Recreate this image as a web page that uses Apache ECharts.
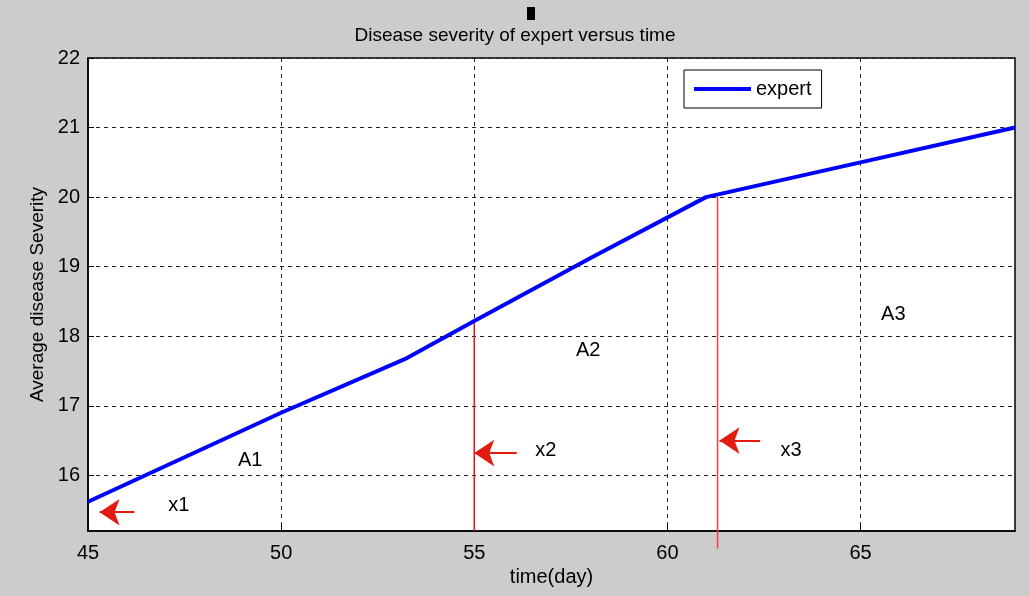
<!DOCTYPE html>
<html>
<head>
<meta charset="utf-8">
<title>Disease severity of expert versus time</title>
<script src="https://cdn.jsdelivr.net/npm/echarts@6/dist/echarts.min.js"></script>
<style>
  html, body { margin: 0; padding: 0; background: #cccccc; }
  #chart { width: 1030px; height: 596px; }
</style>
</head>
<body>
<div id="chart"></div>
<script>
// data
const days = [45, 50, 53.2, 55, 58, 61, 65, 69];
const severity = [15.62, 16.9, 17.67, 18.22, 19.12, 20.0, 20.5, 21.0];
const xTicks = [45, 50, 55, 60, 65];
const yTicks = [16, 17, 18, 19, 20, 21, 22];

// red markers x2 / x3 (vertical lines)
const x2Line = [[55, 15.2], [55, 18.22]];
const x3Line = [[61.3, 14.95], [61.3, 20.0]];

// arrows: [tail, tip]
const arrows = [
  [[46.2, 15.47], [45.3, 15.47]],
  [[56.1, 16.32], [55.0, 16.32]],
  [[62.4, 16.5], [61.35, 16.5]]
];

// text annotations
const notes = [
  ["x1", 47.35, 15.57],
  ["A1", 49.2, 16.22],
  ["x2", 56.85, 16.36],
  ["A2", 57.95, 17.8],
  ["x3", 63.2, 16.36],
  ["A3", 65.85, 18.31]
];

const font = "'Liberation Sans Narrow', 'Liberation Sans', Arial, sans-serif";

let chart = echarts.init(document.getElementById("chart"));
chart.setOption({
  backgroundColor: "#cccccc",
  animation: false,
  title: {
    text: "Disease severity of expert versus time",
    left: "center",
    top: 21,
    textStyle: { fontFamily: font, fontSize: 19, fontWeight: "normal", color: "#000" }
  },
  legend: {
    left: 684,
    top: 70,
    backgroundColor: "#fff",
    borderColor: "#000",
    borderWidth: 1,
    padding: [9, 10, 9, 10],
    itemWidth: 57,
    itemHeight: 4,
    itemGap: 6,
    data: [{ name: "expert", icon: "rect" }],
    textStyle: { fontFamily: font, fontSize: 20, color: "#000" }
  },
  graphic: [
    { type: "rect", left: 527, top: 7, shape: { width: 8, height: 13 }, style: { fill: "#000" } }
  ],
  grid: {
    left: 88, right: 15, top: 58, bottom: 65,
    show: true,
    backgroundColor: "#fff",
    borderColor: "#000",
    borderWidth: 1.5
  },
  xAxis: {
    type: "value",
    min: 45,
    max: 69,
    name: "time(day)",
    nameLocation: "middle",
    nameGap: 32,
    nameTextStyle: { fontFamily: font, fontSize: 20, color: "#000" },
    axisLine: { show: true, lineStyle: { color: "#000", width: 1.5 } },
    axisTick: { show: true, inside: true, length: 6, customValues: xTicks, lineStyle: { color: "#000" } },
    axisLabel: { customValues: xTicks, margin: 12, fontFamily: font, fontSize: 20, color: "#000" },
    splitLine: { show: true, lineStyle: { color: "#222", type: [4, 4], width: 1 } }
  },
  yAxis: {
    type: "value",
    min: 15.2,
    max: 22,
    name: "Average disease Severity",
    nameLocation: "middle",
    nameGap: 38,
    nameTextStyle: { fontFamily: "'Liberation Sans', Arial, sans-serif", fontSize: 19, color: "#000" },
    axisLine: { show: true, lineStyle: { color: "#000", width: 1.5 } },
    axisTick: { show: true, inside: true, length: 6, customValues: yTicks, lineStyle: { color: "#000" } },
    axisLabel: { customValues: yTicks, margin: 8, fontFamily: font, fontSize: 20, color: "#000" },
    splitLine: { show: true, lineStyle: { color: "#222", type: [4, 4], width: 1 } }
  },
  series: [
    {
      name: "expert",
      type: "line",
      symbol: "none",
      color: "#0000ff",
      lineStyle: { width: 4, color: "#0000ff" },
      data: days.map((d, i) => [d, severity[i]]),
      z: 5
    },
    {
      type: "line",
      symbol: "none",
      lineStyle: { width: 1.5, color: "#ee1111" },
      data: x2Line,
      z: 4
    },
    {
      type: "line",
      symbol: "none",
      clip: false,
      lineStyle: { width: 1.5, color: "#ff3b3b" },
      data: x3Line,
      z: 4
    },
    {
      type: "lines",
      coordinateSystem: "cartesian2d",
      symbol: ["none", "arrow"],
      symbolSize: [0, 20],
      lineStyle: { color: "#e21a10", width: 2, opacity: 1, curveness: 0 },
      data: arrows.map(a => ({ coords: a })),
      z: 6
    },
    {
      type: "scatter",
      symbolSize: 0,
      itemStyle: { opacity: 1 },
      label: {
        show: true,
        position: "inside",
        formatter: p => p.data[2],
        fontFamily: font,
        fontSize: 20,
        color: "#000"
      },
      data: notes.map(n => [n[1], n[2], n[0]]),
      z: 7
    }
  ]
});
window.addEventListener("resize", () => {
  chart.resize();
});
</script>
</body>
</html>
